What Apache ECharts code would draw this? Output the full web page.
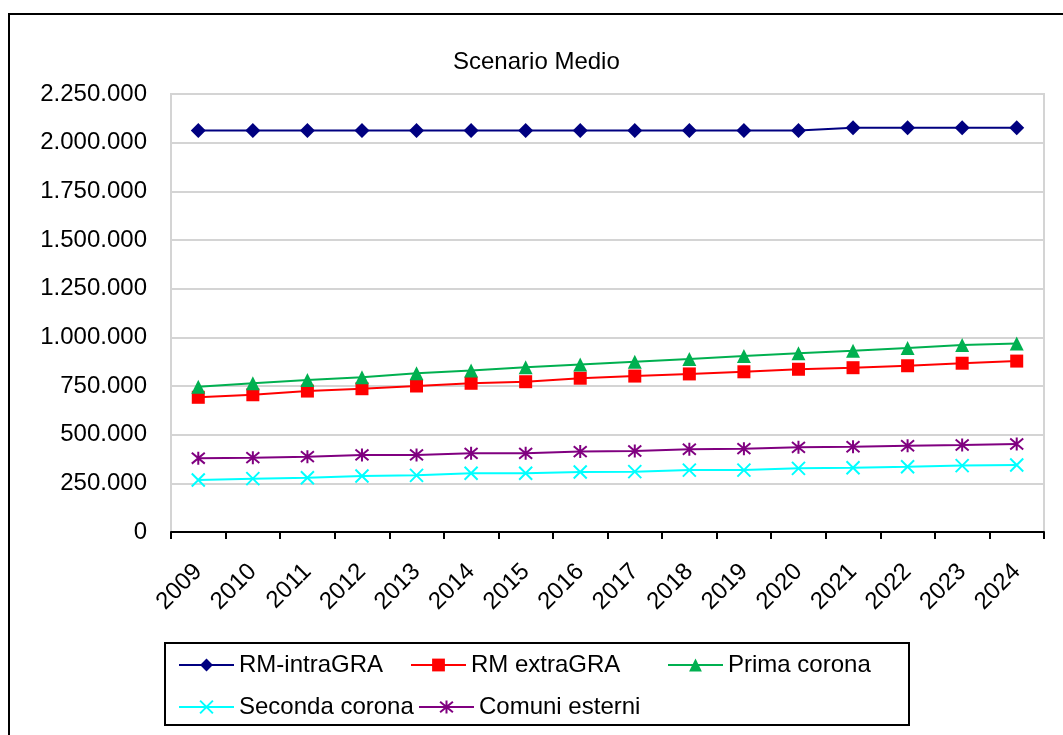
<!DOCTYPE html>
<html>
<head>
<meta charset="utf-8">
<script src="https://cdn.jsdelivr.net/npm/echarts@6/dist/echarts.min.js"></script>
<style>
html,body{margin:0;padding:0;background:#fff;}
#chart{width:1063px;height:735px;}
</style>
</head>
<body>
<div id="chart"></div>
<script>
var years = ['2009','2010','2011','2012','2013','2014','2015','2016','2017','2018','2019','2020','2021','2022','2023','2024'];
var rmIntraGRA = [2063000,2063000,2063000,2063000,2063000,2063000,2063000,2063000,2063000,2063000,2063000,2063000,2076000,2076000,2076000,2076000];
var rmExtraGRA = [692000,705000,724000,736000,750000,764000,772000,790000,801000,812000,823000,836000,844000,854000,867000,878000];
var primaCorona = [746000,764000,781000,795000,815000,829000,846000,861000,875000,889000,904000,918000,931000,945000,960000,968000];
var secondaCorona = [267000,274000,279000,288000,291000,302000,302000,308000,310000,318000,318000,327000,330000,335000,341000,344000];
var comuniEsterni = [379000,382000,387000,396000,396000,404000,404000,413000,416000,425000,428000,435000,438000,443000,447000,452000];
var seriesNames = ['RM-intraGRA','RM extraGRA','Prima corona','Seconda corona','Comuni esterni'];

var FONT = 'Liberation Sans, Arial, sans-serif';
function fmt(v){ return String(v).replace(/\B(?=(\d{3})+(?!\d))/g,'.'); }

var crossPath = 'path://M0,0L10,10M10,0L0,10';
var starPath = 'path://M0,0L10,10M10,0L0,10M5,-1L5,11';

function mk(name, data, color, symbol, size, stroke){
  var s = {
    name: name, type: 'line', data: data, symbol: symbol, symbolSize: size,
    showAllSymbol: true,
    lineStyle: {color: color, width: 2},
    itemStyle: {color: color},
    z: 3
  };
  if (stroke) {
    s.itemStyle = {color: color, borderColor: color, borderWidth: 2};
  }
  return s;
}

var legendTextStyle = {fontFamily: FONT, fontSize: 24, color: '#000'};
function lg(name, left, top){
  return {data: [name], left: left, top: top, itemWidth: 55, itemHeight: 16, itemGap: 0,
    textStyle: legendTextStyle, padding: 0, selectedMode: false};
}

var chart = echarts.init(document.getElementById('chart'), null, {renderer: 'canvas'});
chart.setOption({
  animation: false,
  backgroundColor: '#fff',
  title: {text: 'Scenario Medio', left: 448, top: 45,
    textStyle: {fontFamily: FONT, fontSize: 24, fontWeight: 'normal', color: '#000'}},
  grid: {left: 171, right: 19, top: 94, bottom: 203, show: true, borderColor: '#d4d4d4', borderWidth: 2},
  legend: [
    lg(seriesNames[0], 178, 653),
    lg(seriesNames[1], 410, 653),
    lg(seriesNames[2], 667, 653),
    lg(seriesNames[3], 178, 695),
    lg(seriesNames[4], 418, 695)
  ],
  xAxis: {
    type: 'category', data: years, boundaryGap: true,
    axisLine: {lineStyle: {color: '#000', width: 2}},
    axisTick: {show: true, length: 7, lineStyle: {color: '#000', width: 2}},
    axisLabel: {rotate: 45, fontFamily: FONT, fontSize: 24, color: '#000', margin: 36, interval: 0}
  },
  yAxis: {
    type: 'value', min: 0, max: 2250000, interval: 250000,
    axisLine: {show: false}, axisTick: {show: false},
    splitLine: {lineStyle: {color: '#d4d4d4', width: 2}},
    axisLabel: {fontFamily: FONT, fontSize: 24, color: '#000', margin: 24, formatter: fmt}
  },
  graphic: [
    {type: 'rect', shape: {x: 9, y: 14, width: 1070, height: 740}, style: {fill: 'none', stroke: '#000', lineWidth: 2}, silent: true},
    {type: 'rect', shape: {x: 165, y: 643, width: 744, height: 82}, style: {fill: 'none', stroke: '#000', lineWidth: 2}, silent: true, z: -1}
  ],
  series: [
    mk(seriesNames[0], rmIntraGRA, '#000080', 'diamond', 15, false),
    mk(seriesNames[1], rmExtraGRA, '#ff0000', 'rect', 13, false),
    mk(seriesNames[2], primaCorona, '#00b050', 'triangle', 14, false),
    mk(seriesNames[3], secondaCorona, '#00ffff', crossPath, 13, true),
    mk(seriesNames[4], comuniEsterni, '#800080', starPath, 13, true)
  ]
});
</script>
</body>
</html>
